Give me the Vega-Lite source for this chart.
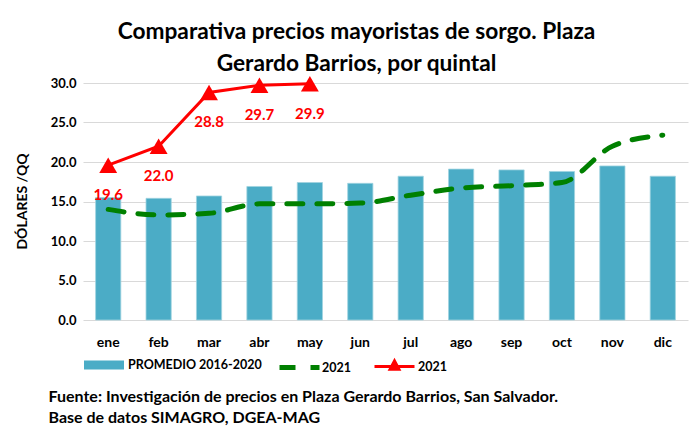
{
  "$schema": "https://vega.github.io/schema/vega-lite/v6.json",
  "autosize": "none",
  "width": 605,
  "height": 237,
  "padding": {"left": 83, "top": 83, "right": 8, "bottom": 113},
  "background": "white",
  "config": {
    "font": "Lato",
    "view": {"stroke": null},
    "axis": {"labelFont": "Lato", "labelFontWeight": "bold", "labelColor": "#000000", "labelFontSize": 13, "titleFont": "Lato", "titleColor": "#000000"},
    "legend": {"labelFont": "Lato", "labelFontSize": 12.5, "labelFontWeight": "bold", "labelColor": "#000000", "orient": "none", "title": null, "symbolSize": 1600, "padding": 0}
  },
  "title": {
    "text": ["Comparativa precios mayoristas de sorgo. Plaza", "Gerardo Barrios, por quintal"],
    "font": "Lato", "fontSize": 22.7, "fontWeight": "bold", "color": "#000000",
    "lineHeight": 32, "dx": -29, "offset": 0
  },
  "data": {
    "values": [
      {"mes": "ene", "promedio": 15.5, "tendencia": 14.0, "r2021": 19.6},
      {"mes": "feb", "promedio": 15.4, "tendencia": 13.3, "r2021": 22.0},
      {"mes": "mar", "promedio": 15.7, "tendencia": 13.5, "r2021": 28.8},
      {"mes": "abr", "promedio": 16.9, "tendencia": 14.7, "r2021": 29.7},
      {"mes": "may", "promedio": 17.4, "tendencia": 14.7, "r2021": 29.9},
      {"mes": "jun", "promedio": 17.3, "tendencia": 14.8, "r2021": null},
      {"mes": "jul", "promedio": 18.2, "tendencia": 15.8, "r2021": null},
      {"mes": "ago", "promedio": 19.1, "tendencia": 16.7, "r2021": null},
      {"mes": "sep", "promedio": 19.0, "tendencia": 17.0, "r2021": null},
      {"mes": "oct", "promedio": 18.8, "tendencia": 17.4, "r2021": null},
      {"mes": "nov", "promedio": 19.5, "tendencia": 22.0, "r2021": null},
      {"mes": "dic", "promedio": 18.2, "tendencia": 23.4, "r2021": null}
    ]
  },
  "encoding": {
    "x": {
      "field": "mes", "type": "nominal", "sort": null,
      "scale": {"paddingInner": 0, "paddingOuter": 0},
      "axis": {
        "labelAngle": 0, "ticks": false, "domain": false, "labelPadding": 15, "labelFontSize": 14,
        "title": ["Fuente: Investigación de precios en Plaza Gerardo Barrios, San Salvador.", "Base de datos SIMAGRO, DGEA-MAG"],
        "titleFontSize": 16, "titleFontWeight": "bold", "titleX": -35, "titleY": 68,
        "titleAlign": "left", "titleBaseline": "top", "titleLineHeight": 21
      }
    }
  },
  "layer": [
    {
      "mark": {"type": "bar", "width": {"band": 0.5}, "stroke": "#9fd3e0", "strokeWidth": 0.8},
      "encoding": {
        "y": {
          "field": "promedio", "type": "quantitative",
          "scale": {"domain": [0, 30], "nice": false},
          "axis": {
            "values": [0, 5, 10, 15, 20, 25, 30], "format": ".1f", "ticks": false, "domain": false,
            "gridColor": "#D9D9D9", "gridWidth": 1.2, "labelPadding": 7,
            "title": "DÓLARES /QQ", "titleFontSize": 14, "titleFontWeight": "bold",
            "titleX": -61, "titleY": 118, "titleBaseline": "middle", "titleAngle": -90, "titleAlign": "center"
          }
        },
        "fill": {
          "datum": "PROMEDIO 2016-2020",
          "scale": {"domain": ["PROMEDIO 2016-2020"], "range": ["#4BACC6"]},
          "legend": {
            "legendX": 1, "legendY": 262,
            "symbolType": "M-1,-0.22H1V0.22H-1Z", "symbolStrokeWidth": 0, "labelOffset": 4
          }
        }
      }
    },
    {
      "mark": {"type": "line", "strokeWidth": 5, "strokeDash": [16, 14], "strokeCap": "round", "interpolate": "monotone"},
      "encoding": {
        "y": {
          "field": "tendencia", "type": "quantitative",
          "scale": {"domain": [0, 30], "nice": false},
          "axis": {
            "values": [0, 5, 10, 15, 20, 25, 30], "format": ".1f", "ticks": false, "domain": false,
            "gridColor": "#D9D9D9", "gridWidth": 1.2, "labelPadding": 7,
            "title": "DÓLARES /QQ", "titleFontSize": 14, "titleFontWeight": "bold",
            "titleX": -61, "titleY": 118, "titleBaseline": "middle", "titleAngle": -90, "titleAlign": "center"
          }
        },
        "stroke": {
          "datum": "2021 ",
          "scale": {"domain": ["2021 "], "range": ["#008000"]},
          "legend": {
            "legendX": 194, "legendY": 262,
            "symbolType": "M-1,0H1", "symbolStrokeWidth": 5, "symbolDash": [16, 15], "labelOffset": 0
          }
        }
      }
    },
    {
      "transform": [{"filter": "isValid(datum.r2021)"}],
      "encoding": {
        "y": {
          "field": "r2021", "type": "quantitative",
          "scale": {"domain": [0, 30], "nice": false},
          "axis": {
            "values": [0, 5, 10, 15, 20, 25, 30], "format": ".1f", "ticks": false, "domain": false,
            "gridColor": "#D9D9D9", "gridWidth": 1.2, "labelPadding": 7,
            "title": "DÓLARES /QQ", "titleFontSize": 14, "titleFontWeight": "bold",
            "titleX": -61, "titleY": 118, "titleBaseline": "middle", "titleAngle": -90, "titleAlign": "center"
          }
        }
      },
      "layer": [
        {
          "mark": {"type": "line", "strokeWidth": 3, "color": "#FF0000"}
        },
        {
          "mark": {"type": "point", "shape": "triangle-up", "filled": true, "size": 320, "opacity": 1},
          "encoding": {
            "color": {
              "datum": "2021",
              "scale": {"domain": ["2021"], "range": ["#FF0000"]},
              "legend": {
                "legendX": 290, "legendY": 262,
                "symbolType": "M-1,0H1M0,-0.28L0.22,0.14H-0.22Z", "symbolStrokeColor": "#FF0000", "symbolStrokeWidth": 3, "labelOffset": 2
              }
            }
          }
        },
        {
          "mark": {"type": "text", "dy": 30, "color": "#FF0000", "font": "Lato", "fontSize": 15, "fontWeight": "bold"},
          "encoding": {
            "text": {"field": "r2021", "type": "quantitative", "format": ".1f"}
          }
        }
      ]
    }
  ]
}
